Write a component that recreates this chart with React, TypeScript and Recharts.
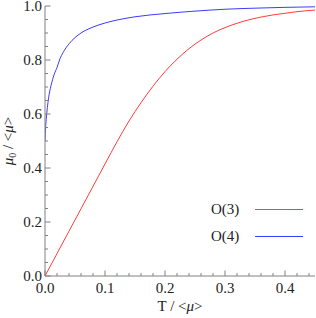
import React from "react";
import { LineChart, Line, XAxis, YAxis } from "recharts";

// O(3): mu0/<mu> vs T/<mu>
const O3_T = [0, 0.02, 0.04, 0.06, 0.08, 0.1, 0.12, 0.14, 0.16, 0.18, 0.2, 0.22, 0.24, 0.26, 0.28, 0.3, 0.32, 0.34, 0.36, 0.38, 0.4, 0.42, 0.45];
const O3_MU = [0, 0.083, 0.166, 0.249, 0.332, 0.415, 0.497, 0.574, 0.642, 0.703, 0.757, 0.803, 0.842, 0.874, 0.9, 0.92, 0.936, 0.949, 0.959, 0.967, 0.973, 0.979, 0.985];

// O(4)
const O4_T = [0, 0.001, 0.002, 0.004, 0.006, 0.008, 0.01, 0.015, 0.02, 0.025, 0.03, 0.04, 0.05, 0.06, 0.08, 0.1, 0.12, 0.15, 0.2, 0.25, 0.3, 0.35, 0.4, 0.45];
const O4_MU = [0.5, 0.55, 0.58, 0.625, 0.66, 0.685, 0.705, 0.745, 0.772, 0.805, 0.827, 0.86, 0.883, 0.9, 0.922, 0.937, 0.948, 0.96, 0.972, 0.981, 0.988, 0.992, 0.995, 0.997];

const X_TICKS = [0, 0.02, 0.04, 0.06, 0.08, 0.1, 0.12, 0.14, 0.16, 0.18, 0.2, 0.22, 0.24, 0.26, 0.28, 0.3, 0.32, 0.34, 0.36, 0.38, 0.4, 0.42, 0.44];
const Y_TICKS = [0, 0.05, 0.1, 0.15, 0.2, 0.25, 0.3, 0.35, 0.4, 0.45, 0.5, 0.55, 0.6, 0.65, 0.7, 0.75, 0.8, 0.85, 0.9, 0.95, 1];

const o3 = O3_T.map((t, i) => ({ t, mu: O3_MU[i] }));
const o4 = O4_T.map((t, i) => ({ t, mu: O4_MU[i] }));

const FONT = "Liberation Serif, Times New Roman, Times, DejaVu Serif, serif";
const FRAME = "#808080";
const RED = "#ff3c3c";
const BLUE = "#3c3cff";

const isMajor = (v: number, step: number) => Math.abs(v / step - Math.round(v / step)) < 1e-6;

function TickBottom({ x, y, payload }: any) {
  const major = isMajor(payload.value, 0.1);
  return (
    <g>
      <line x1={x} x2={x} y1={y} y2={y - (major ? 5.5 : 3)} stroke={FRAME} />
      {major && (
        <text x={x} y={y + 17} textAnchor="middle" style={{ fontSize: 15, fontFamily: FONT }} fill="#222">
          {payload.value.toFixed(1)}
        </text>
      )}
    </g>
  );
}

function TickTop({ x, y, payload }: any) {
  const major = isMajor(payload.value, 0.1);
  return <line x1={x} x2={x} y1={y} y2={y + (major ? 5.5 : 3)} stroke={FRAME} />;
}

function TickLeft({ x, y, payload }: any) {
  const major = isMajor(payload.value, 0.2);
  return (
    <g>
      <line x1={x} x2={x + (major ? 5.5 : 3)} y1={y} y2={y} stroke={FRAME} />
      {major && (
        <text x={x - 3} y={y + 5} textAnchor="end" style={{ fontSize: 15, fontFamily: FONT }} fill="#222">
          {payload.value.toFixed(1)}
        </text>
      )}
    </g>
  );
}

function TickRight({ x, y, payload }: any) {
  const major = isMajor(payload.value, 0.2);
  return <line x1={x} x2={x - (major ? 5.5 : 3)} y1={y} y2={y} stroke={FRAME} />;
}

function YLabel({ viewBox }: any) {
  const cy = viewBox.y + viewBox.height / 2;
  const x = 13;
  return (
    <text
      x={x}
      y={cy}
      transform={`rotate(-90 ${x} ${cy})`}
      textAnchor="middle"
      style={{ fontSize: 15, fontFamily: FONT }}
      fill="#222"
    >
      <tspan fontStyle="italic">μ</tspan>
      <tspan style={{ fontSize: 10 }} dy={3}>0</tspan>
      <tspan dy={-3}> / &lt;</tspan>
      <tspan fontStyle="italic">μ</tspan>
      <tspan>&gt;</tspan>
    </text>
  );
}

function XLabel({ viewBox }: any) {
  const cx = viewBox.x + viewBox.width / 2;
  return (
    <text x={cx} y={311} textAnchor="middle" style={{ fontSize: 15, fontFamily: FONT }} fill="#222">
      <tspan>T / &lt;</tspan>
      <tspan fontStyle="italic">μ</tspan>
      <tspan>&gt;</tspan>
    </text>
  );
}

const legendItems = [
  { name: "O(3)", color: RED, top: 209 },
  { name: "O(4)", color: BLUE, top: 236 },
];

export default function App() {
  return (
    <div style={{ position: "absolute", left: 0, top: 0, width: 316, height: 318, background: "#fff" }}>
      <LineChart width={316} height={318} margin={{ top: 6, right: 1, bottom: 0, left: 0 }}>
        <XAxis
          xAxisId="b"
          type="number"
          dataKey="t"
          domain={[0, 0.45]}
          ticks={X_TICKS}
          interval={0}
          tickSize={0}
          tickMargin={0}
          tickLine={false}
          tick={<TickBottom />}
          stroke={FRAME}
          height={42}
          allowDataOverflow
          label={<XLabel />}
        />
        <XAxis
          xAxisId="t"
          orientation="top"
          type="number"
          dataKey="t"
          domain={[0, 0.45]}
          ticks={X_TICKS}
          interval={0}
          tickSize={0}
          tickMargin={0}
          tickLine={false}
          tick={<TickTop />}
          stroke={FRAME}
          height={0}
          allowDataOverflow
        />
        <YAxis
          yAxisId="l"
          type="number"
          domain={[0, 1]}
          ticks={Y_TICKS}
          interval={0}
          tickSize={0}
          tickMargin={0}
          tickLine={false}
          tick={<TickLeft />}
          stroke={FRAME}
          width={45}
          allowDataOverflow
          label={<YLabel />}
        />
        <YAxis
          yAxisId="r"
          orientation="right"
          type="number"
          domain={[0, 1]}
          ticks={Y_TICKS}
          interval={0}
          tickSize={0}
          tickMargin={0}
          tickLine={false}
          tick={<TickRight />}
          stroke={FRAME}
          width={0}
          allowDataOverflow
        />
        <Line
          xAxisId="b"
          yAxisId="l"
          data={o3}
          dataKey="mu"
          type="monotone"
          stroke={RED}
          strokeWidth={1}
          dot={false}
          isAnimationActive={false}
        />
        <Line
          xAxisId="b"
          yAxisId="l"
          data={o4}
          dataKey="mu"
          type="monotone"
          stroke={BLUE}
          strokeWidth={1}
          dot={false}
          isAnimationActive={false}
        />
      </LineChart>
      {legendItems.map((it) => (
        <div
          key={it.name}
          style={{ position: "absolute", left: 211, top: it.top - 9, height: 18, display: "flex", alignItems: "center" }}
        >
          <span style={{ fontFamily: FONT, fontSize: 15, color: "#222", width: 44, lineHeight: "18px" }}>{it.name}</span>
          <span style={{ display: "inline-block", width: 48, height: 1, background: it.color }} />
        </div>
      ))}
    </div>
  );
}
